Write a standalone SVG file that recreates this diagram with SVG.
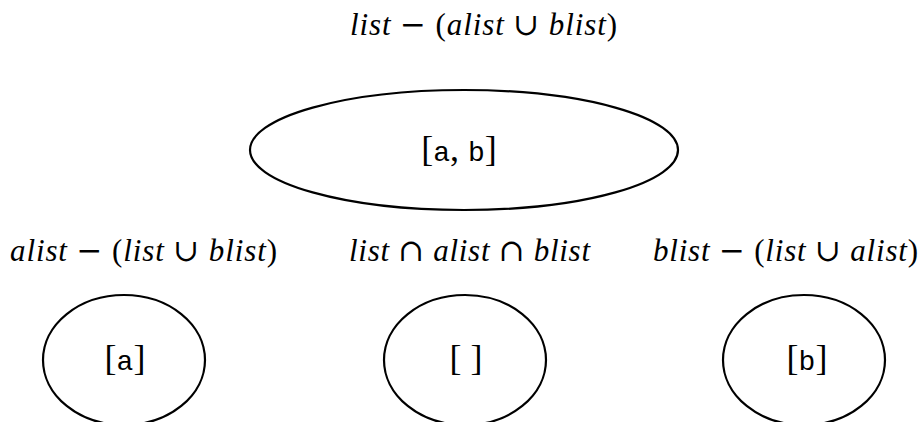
<svg xmlns="http://www.w3.org/2000/svg" width="921" height="422" viewBox="0 0 921 422">
<style>
.node ellipse{fill:none;stroke:#000;stroke-width:2.2}
.lab{font-family:"Liberation Serif","DejaVu Serif",serif;font-size:31px;fill:#000;text-anchor:middle}
.it{font-style:italic}
.op{font-family:"DejaVu Serif",serif;font-size:31px;font-weight:300}
.nt{font-family:"Liberation Serif","DejaVu Serif",serif;font-size:36px;fill:#000;text-anchor:middle}
.tt{font-family:"Liberation Mono","DejaVu Sans Mono",monospace;font-size:28px}
</style>
<rect width="921" height="422" fill="#fff"/>
<g id="connectors"></g>
<g id="node-list" class="node">
<text class="lab" x="483.5" y="35" textLength="267" lengthAdjust="spacing"><tspan class="it">list</tspan> <tspan class="op">−</tspan> (<tspan class="it">alist</tspan> <tspan class="op">∪</tspan> <tspan class="it">blist</tspan>)</text>
<ellipse cx="464" cy="150" rx="214" ry="60"/>
<text class="nt" x="459" y="161">[<tspan class="tt">a</tspan>, <tspan class="tt">b</tspan>]</text>
</g>
<g id="node-alist" class="node">
<text class="lab" x="143.5" y="261" textLength="267" lengthAdjust="spacing"><tspan class="it">alist</tspan> <tspan class="op">−</tspan> (<tspan class="it">list</tspan> <tspan class="op">∪</tspan> <tspan class="it">blist</tspan>)</text>
<ellipse cx="124" cy="360" rx="81" ry="65"/>
<text class="nt" x="125" y="370">[<tspan class="tt">a</tspan>]</text>
</g>
<g id="node-common" class="node">
<text class="lab" x="469.5" y="261" textLength="241" lengthAdjust="spacing"><tspan class="it">list</tspan> <tspan class="op">∩</tspan> <tspan class="it">alist</tspan> <tspan class="op">∩</tspan> <tspan class="it">blist</tspan></text>
<ellipse cx="465" cy="360" rx="81" ry="65"/>
<text class="nt" x="466" y="370">[ ]</text>
</g>
<g id="node-blist" class="node">
<text class="lab" x="785.5" y="261" textLength="265" lengthAdjust="spacing"><tspan class="it">blist</tspan> <tspan class="op">−</tspan> (<tspan class="it">list</tspan> <tspan class="op">∪</tspan> <tspan class="it">alist</tspan>)</text>
<ellipse cx="804" cy="360" rx="81" ry="65"/>
<text class="nt" x="807" y="370">[<tspan class="tt">b</tspan>]</text>
</g>
</svg>
